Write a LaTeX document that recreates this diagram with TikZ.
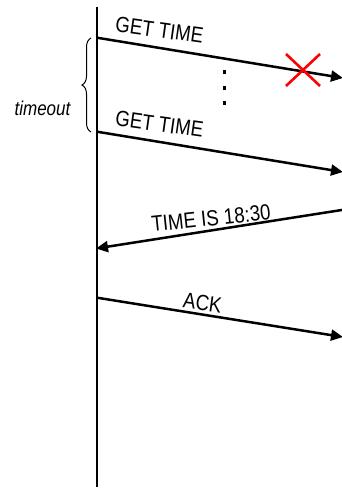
\documentclass[tikz,border=0pt]{standalone}
\usepackage{fontspec}
\setmainfont{Liberation Sans}
\newfontfamily\lblfont[FakeStretch=0.85]{Liberation Sans}
\usetikzlibrary{arrows.meta,decorations.pathreplacing}
\begin{document}
\begin{tikzpicture}[x=1pt,y=-1pt,
  msg/.style={line width=2.5pt,-{Triangle[length=12pt,width=11pt]}},
  lbl/.style={font=\lblfont\fontsize{22}{22}\selectfont,inner sep=0pt},
  cross/.style={red,line width=2.6pt}]
\useasboundingbox (0,0) rectangle (342,488);
\coordinate (top) at (97,7);
\coordinate (bot) at (97,487);
\draw[line width=2.5pt] (top) -- (bot);
% message endpoints
\coordinate (a1) at (97,37.7);  \coordinate (b1) at (343,78);
\coordinate (a2) at (97,131.7); \coordinate (b2) at (343,172);
\coordinate (b3) at (343,209.8); \coordinate (a3) at (96,248.5);
\coordinate (a4) at (97,297.7); \coordinate (b4) at (343,337);
\draw[msg] (a1) -- (b1);
\draw[msg] (a2) -- (b2);
\draw[msg] (b3) -- (a3);
\draw[msg] (a4) -- (b4);
% labels
\node[lbl,rotate=-8] (l1) at (159.5,30) {GET TIME};
\node[lbl,rotate=-8] (l2) at (159.5,124) {GET TIME};
\node[lbl,rotate=6] (l3) at (211,218) {TIME IS 18:30};
\node[lbl,rotate=-8] (l4) at (202.5,303) {ACK};
% lost message cross
\coordinate (x1) at (286,54); \coordinate (x2) at (320,86);
\coordinate (x3) at (286,86); \coordinate (x4) at (320,54);
\draw[cross] (x1) -- (x2);
\draw[cross] (x3) -- (x4);
% dots
\foreach \yy/\n in {72/d1,88/d2,103/d3}
  \fill (223,\yy-1.6) rectangle +(3.2,3.2);
% brace
\coordinate (br1) at (91,132); \coordinate (br2) at (91,38);
\draw[line width=1pt,decorate,decoration={brace,amplitude=9pt}] (br1) -- (br2);
\node[font=\lblfont\fontsize{20}{20}\selectfont\itshape,inner sep=0pt] (to) at (42.5,108) {timeout};
\end{tikzpicture}
\end{document}
